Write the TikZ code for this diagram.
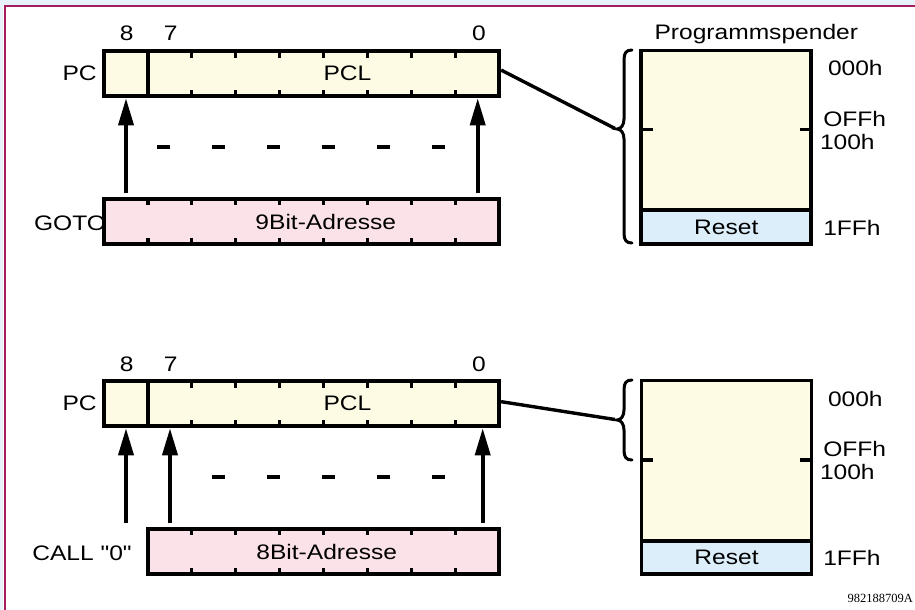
\documentclass[tikz,border=0pt]{standalone}
\usepackage{fontspec}
\setmainfont[FakeStretch=1.17, Ligatures=TeXOff]{Liberation Sans}
\newfontfamily\codefont{Liberation Serif}
\usetikzlibrary{arrows.meta,calc}

\definecolor{regyellow}{RGB}{253,251,228}
\definecolor{addrpink}{RGB}{251,226,232}
\definecolor{resetblue}{RGB}{220,238,250}
\definecolor{framemagenta}{RGB}{165,30,95}
\definecolor{framestrip}{RGB}{232,242,250}

\tikzset{
  every node/.style={inner sep=0pt, outer sep=0pt, font=\fontsize{21}{25}\selectfont},
  regbox/.style={draw, line width=3.8pt, fill=regyellow, rectangle},
  addrbox/.style={draw, line width=3.8pt, fill=addrpink, rectangle},
  membox/.style={draw, line width=3.8pt, fill=regyellow, rectangle},
  resetbox/.style={draw, line width=3.8pt, fill=resetblue, rectangle},
  bittick/.style={line width=3.2pt},
  divider/.style={line width=3.8pt},
  busarrow/.style={line width=3.7pt, -{Triangle[length=27pt,width=15pt]}},
  gapdash/.style={line width=4pt, dash pattern=on 13pt off 42pt},
  link/.style={line width=3.4pt},
  bracestroke/.style={line width=3pt, line cap=round},
  lbl/.style={anchor=base},
}

\begin{document}
\begin{tikzpicture}[x=1pt,y=-1pt]
  \useasboundingbox (0,0) rectangle (915,610);

  % frame strips and rule
  \fill[framestrip] (0,0) rectangle (915,4.8);
  \fill[framestrip] (0,0) rectangle (3.4,610);
  \draw[framemagenta, line width=2.6pt] (5,610) -- (5,6.2) -- (915,6.2);

  % bit column positions
  \coordinate (c8) at (126,0);
  \coordinate (c7) at (170,0);
  \coordinate (c0a) at (477.7,0);
  \coordinate (c0b) at (482.7,0);

  %================ GOTO ================
  \node[regbox, minimum width=395.1pt, minimum height=44.7pt] (pc1) at (301.55,73.65) {};
  \node[addrbox, minimum width=395.1pt, minimum height=45.5pt] (addr1) at (301.55,221.45) {};
  \draw[divider] (147.9,51.3) -- (147.9,96);
  \foreach \k in {2,...,8} {
    \draw[bittick] (104+43.9*\k,51.3) -- ++(0,6.5);
    \draw[bittick] (104+43.9*\k,96) -- ++(0,-6.5);
  }
  \foreach \k in {1,...,8} {
    \draw[bittick] (104+43.9*\k,198.7) -- ++(0,6.5);
    \draw[bittick] (104+43.9*\k,244.2) -- ++(0,-6.5);
  }

  \node[lbl] (b8a) at (126.7,41) {8};
  \node[lbl] (b7a) at (170.8,41) {7};
  \node[lbl] (b0a) at (479,41) {0};
  \node[anchor=base east] (pcname1) at (96.7,80) {PC};
  \node[lbl] (pcl1) at (347.5,80) {PCL};
  \node[lbl] (adr9) at (325.8,229.5) {9Bit-Adresse};
  \node[anchor=base east] (gotoname) at (106,230) {GOTO};

  \draw[busarrow] ($(addr1.north -| c8)+(0,-5.4)$) -- ($(pc1.south -| c8)+(0,2.3)$);
  \draw[busarrow] ($(addr1.north -| c0a)+(0,-5.4)$) -- ($(pc1.south -| c0a)+(0,2.3)$);
  \draw[gapdash] (157,146.7) -- (446,146.7);

  % program memory
  \node[membox, minimum width=170pt, minimum height=193.5pt] (mem1) at (726.3,147.25) {};
  \node[resetbox, minimum width=170pt, minimum height=33.8pt] (reset1) at (726.3,227.1) {Reset};
  \draw[bittick] (641.3,129.5) -- (653,129.5);
  \draw[bittick] (800,129.5) -- (811.3,129.5);
  \node[lbl] (pmlabel) at (756.3,40) {Programmspender};
  \node[anchor=base west] (a000a) at (828,75) {000h};
  \node[anchor=base west] (a0ffa) at (823.3,126.7) {OFFh};
  \node[anchor=base west] (a100a) at (820,149) {100h};
  \node[anchor=base west] (a1ffa) at (823.3,235) {1FFh};

  \draw[bracestroke] (632,50) .. controls (626,50) and (624,53) .. (624,60)
    -- (624,119) .. controls (624,125) and (621,129) .. (617,129)
    .. controls (621,129) and (624,133) .. (624,139)
    -- (624,233) .. controls (624,240) and (626,243) .. (632,243);
  \coordinate (tip1) at (615,128.5);
  \draw[link] ($(pc1.east)+(2,-3.6)$) -- (tip1);

  %================ CALL ================
  \node[regbox, minimum width=395.1pt, minimum height=44.7pt] (pc2) at (301.55,403.65) {};
  \node[addrbox, minimum width=351.2pt, minimum height=45.5pt] (addr2) at (323.5,551.45) {};
  \draw[divider] (147.9,381.3) -- (147.9,426);
  \foreach \k in {2,...,8} {
    \draw[bittick] (104+43.9*\k,381.3) -- ++(0,6.5);
    \draw[bittick] (104+43.9*\k,426) -- ++(0,-6.5);
    \draw[bittick] (104+43.9*\k,528.7) -- ++(0,6.5);
    \draw[bittick] (104+43.9*\k,574.2) -- ++(0,-6.5);
  }

  \node[lbl] (b8b) at (126.7,371) {8};
  \node[lbl] (b7b) at (170.8,371) {7};
  \node[lbl] (b0b) at (479,371) {0};
  \node[anchor=base east] (pcname2) at (96.7,410) {PC};
  \node[lbl] (pcl2) at (347.5,410) {PCL};
  \node[lbl] (adr8) at (326.7,559.5) {8Bit-Adresse};
  \node[anchor=base east] (callname) at (131.7,560) {CALL "0"};

  \draw[busarrow] ($(addr2.north -| c8)+(0,-5.4)$) -- ($(pc2.south -| c8)+(0,2.3)$);
  \draw[busarrow] ($(addr2.north -| c7)+(0,-5.4)$) -- ($(pc2.south -| c7)+(0,2.3)$);
  \draw[busarrow] ($(addr2.north -| c0b)+(0,-5.4)$) -- ($(pc2.south -| c0b)+(0,2.3)$);
  \draw[gapdash] (212,476.7) -- (446,476.7);

  \node[membox, minimum width=170pt, minimum height=193.8pt] (mem2) at (726.5,477.4) {};
  \node[resetbox, minimum width=170pt, minimum height=33.3pt] (reset2) at (726.5,557.65) {Reset};
  \draw[bittick] (641.5,460) -- (653,460);
  \draw[bittick] (800,460) -- (811.5,460);
  \node[anchor=base west] (a000b) at (828,406) {000h};
  \node[anchor=base west] (a0ffb) at (823.3,456.7) {OFFh};
  \node[anchor=base west] (a100b) at (820,479) {100h};
  \node[anchor=base west] (a1ffb) at (823.3,565) {1FFh};

  \draw[bracestroke] (632,380) .. controls (626,380) and (624,383) .. (624,390)
    -- (624,410) .. controls (624,416) and (621,420) .. (617,420)
    .. controls (621,420) and (624,424) .. (624,430)
    -- (624,450) .. controls (624,457) and (626,460) .. (632,460);
  \coordinate (tip2) at (615,419.5);
  \draw[link] ($(pc2.east)+(2,-2)$) -- (tip2);

  \node[anchor=base east, font=\codefont\fontsize{12.5}{14}\selectfont] (figno) at (913,602.5) {982188709A};
\end{tikzpicture}
\end{document}
